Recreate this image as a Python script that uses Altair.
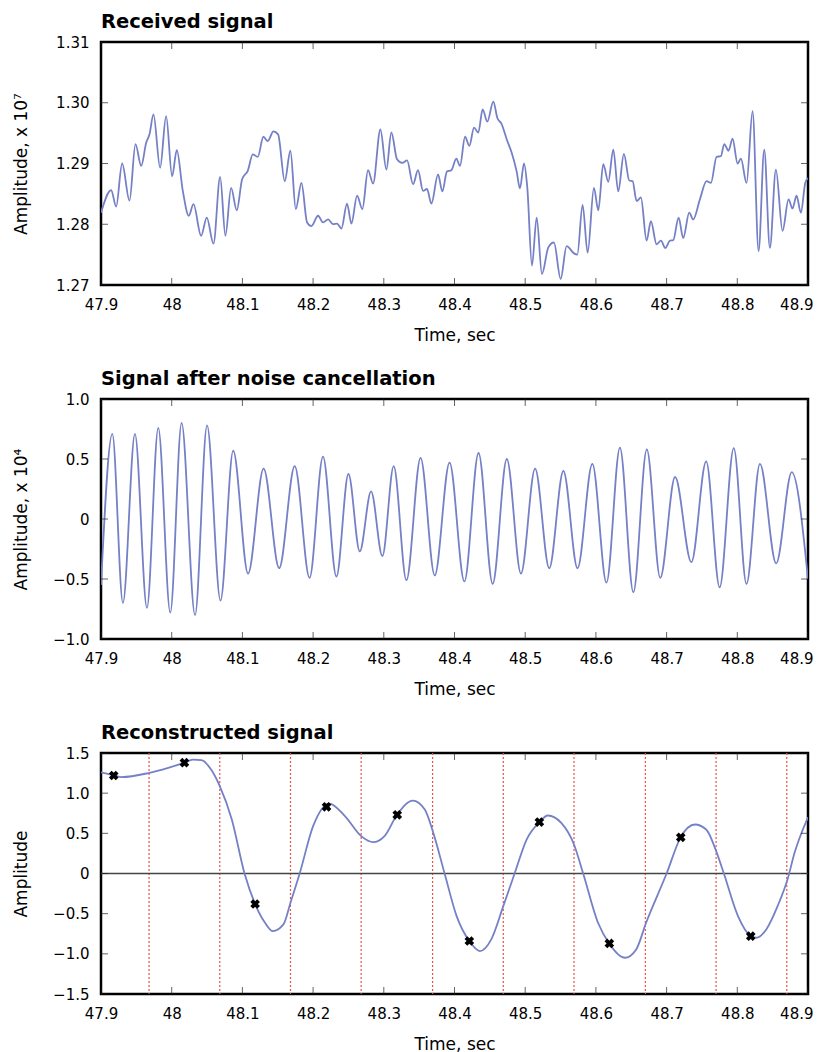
import altair as alt
import pandas as pd

# ---------------- data ----------------
x_ticks = [47.9, 48.0, 48.1, 48.2, 48.3, 48.4, 48.5, 48.6, 48.7, 48.8, 48.9]

# Panel 1: received signal (amplitude x 1e7)
p1_t = [47.9000, 47.9144, 47.9214, 47.9299, 47.9403, 47.9488, 47.9568, 47.9639, 47.9686, 47.9742,
        47.9836, 47.9921, 48.0006, 48.0072, 48.0157, 48.0242, 48.0308, 48.0416, 48.0496, 48.0591,
        48.0685, 48.0760, 48.0840, 48.0920, 48.0996, 48.1076, 48.1147, 48.1217, 48.1297, 48.1359,
        48.1439, 48.1505, 48.1599, 48.1679, 48.1755, 48.1835, 48.1915, 48.1976, 48.2070, 48.2141,
        48.2212, 48.2282, 48.2339, 48.2400, 48.2480, 48.2542, 48.2622, 48.2697, 48.2777, 48.2848,
        48.2952, 48.3036, 48.3107, 48.3187, 48.3262, 48.3329, 48.3414, 48.3484, 48.3555, 48.3611,
        48.3673, 48.3767, 48.3828, 48.3894, 48.3955, 48.4026, 48.4078, 48.4149, 48.4210, 48.4276,
        48.4337, 48.4398, 48.4464, 48.4549, 48.4606, 48.4667, 48.4738, 48.4808, 48.4879, 48.4926,
        48.4983, 48.5030, 48.5096, 48.5162, 48.5237, 48.5327, 48.5407, 48.5501, 48.5586, 48.5690,
        48.5737, 48.5812, 48.5883, 48.5972, 48.6034, 48.6104, 48.6175, 48.6246, 48.6316, 48.6396,
        48.6472, 48.6519, 48.6576, 48.6637, 48.6717, 48.6778, 48.6858, 48.6920, 48.6981, 48.7047,
        48.7094, 48.7170, 48.7235, 48.7320, 48.7377, 48.7471, 48.7565, 48.7627, 48.7707, 48.7768,
        48.7815, 48.7876, 48.7933, 48.8004, 48.8051, 48.8131, 48.8216, 48.8301, 48.8381, 48.8461,
        48.8546, 48.8640, 48.8725, 48.8781, 48.8838, 48.8899, 48.8961, 48.9000]
p1_v = [1.2819, 1.2856, 1.2829, 1.2900, 1.2839, 1.2932, 1.2896, 1.2934, 1.2948, 1.2981,
        1.2893, 1.2978, 1.2879, 1.2922, 1.2855, 1.2814, 1.2833, 1.2781, 1.2811, 1.2768,
        1.2878, 1.2781, 1.2860, 1.2823, 1.2874, 1.2888, 1.2915, 1.2911, 1.2944, 1.2937,
        1.2953, 1.2948, 1.2871, 1.2921, 1.2825, 1.2868, 1.2803, 1.2797, 1.2814, 1.2803,
        1.2808, 1.2800, 1.2801, 1.2793, 1.2834, 1.2801, 1.2847, 1.2825, 1.2889, 1.2867,
        1.2956, 1.2890, 1.2951, 1.2907, 1.2901, 1.2905, 1.2866, 1.2889, 1.2855, 1.2858,
        1.2834, 1.2882, 1.2854, 1.2887, 1.2889, 1.2908, 1.2896, 1.2944, 1.2929, 1.2959,
        1.2951, 1.2989, 1.2969, 1.3002, 1.2975, 1.2965, 1.2940, 1.2918, 1.2887, 1.2859,
        1.2900, 1.2860, 1.2732, 1.2811, 1.2718, 1.2762, 1.2770, 1.2710, 1.2764, 1.2752,
        1.2750, 1.2832, 1.2753, 1.2860, 1.2823, 1.2899, 1.2870, 1.2923, 1.2854, 1.2916,
        1.2872, 1.2871, 1.2838, 1.2844, 1.2773, 1.2805, 1.2767, 1.2773, 1.2761, 1.2773,
        1.2774, 1.2811, 1.2777, 1.2819, 1.2808, 1.2841, 1.2871, 1.2868, 1.2911, 1.2912,
        1.2932, 1.2921, 1.2941, 1.2900, 1.2908, 1.2868, 1.2986, 1.2756, 1.2923, 1.2761,
        1.2890, 1.2789, 1.2841, 1.2826, 1.2847, 1.2819, 1.2868, 1.2876]
p1_yticks = [1.27, 1.28, 1.29, 1.30, 1.31]

# Panel 2: signal after noise cancellation (amplitude x 1e4), peaks and troughs
p2_t = [47.900, 47.916, 47.931, 47.948, 47.965, 47.981, 47.998, 48.014, 48.033, 48.050,
        48.069, 48.087, 48.108, 48.130, 48.152, 48.174, 48.195, 48.214, 48.233, 48.250,
        48.266, 48.282, 48.298, 48.314, 48.332, 48.352, 48.372, 48.393, 48.414, 48.434,
        48.454, 48.474, 48.494, 48.514, 48.534, 48.554, 48.574, 48.595, 48.615, 48.634,
        48.653, 48.672, 48.691, 48.712, 48.735, 48.756, 48.775, 48.795, 48.813, 48.832,
        48.855, 48.877, 48.900]
p2_v = [-0.55, 0.71, -0.70, 0.71, -0.74, 0.76, -0.78, 0.80, -0.80, 0.78,
        -0.68, 0.57, -0.455, 0.42, -0.41, 0.44, -0.49, 0.52, -0.48, 0.375,
        -0.27, 0.23, -0.31, 0.44, -0.51, 0.51, -0.47, 0.47, -0.52, 0.55,
        -0.54, 0.50, -0.455, 0.42, -0.41, 0.40, -0.41, 0.46, -0.53, 0.595,
        -0.61, 0.58, -0.49, 0.35, -0.36, 0.48, -0.57, 0.59, -0.54, 0.46,
        -0.37, 0.39, -0.50]
p2_yticks = [-1.0, -0.5, 0.0, 0.5, 1.0]

# Panel 3: reconstructed signal
p3_t = [47.900, 47.919, 47.929, 47.967, 47.995, 48.018, 48.030, 48.042, 48.056, 48.068,
        48.085, 48.103, 48.118, 48.132, 48.143, 48.158, 48.168, 48.181, 48.200, 48.223,
        48.245, 48.268, 48.285, 48.301, 48.319, 48.341, 48.358, 48.370, 48.386, 48.403,
        48.421, 48.436, 48.452, 48.469, 48.485, 48.502, 48.520, 48.532, 48.551, 48.569,
        48.582, 48.603, 48.619, 48.641, 48.657, 48.671, 48.700, 48.720, 48.740, 48.756,
        48.771, 48.781, 48.801, 48.819, 48.827, 48.841, 48.857, 48.871, 48.881, 48.900]
p3_v = [1.26, 1.22, 1.20, 1.25, 1.315, 1.38, 1.418, 1.41, 1.29, 1.087,
        0.672, 0.0, -0.38, -0.613, -0.717, -0.634, -0.364, 0.0, 0.59, 0.871,
        0.714, 0.465, 0.39, 0.465, 0.734, 0.908, 0.796, 0.506, 0.0, -0.53,
        -0.841, -0.966, -0.82, -0.406, 0.0, 0.423, 0.639, 0.722, 0.63, 0.361,
        0.0, -0.613, -0.874, -1.049, -0.945, -0.613, 0.0, 0.453, 0.61, 0.548,
        0.257, 0.0, -0.53, -0.779, -0.80, -0.696, -0.406, -0.075, 0.257, 0.70]
p3_yticks = [-1.5, -1.0, -0.5, 0.0, 0.5, 1.0, 1.5]
sample_t = [47.918, 48.018, 48.118, 48.219, 48.319, 48.421, 48.520, 48.619, 48.720, 48.819]
sample_v = [1.22, 1.38, -0.38, 0.83, 0.73, -0.84, 0.64, -0.87, 0.45, -0.78]
window_t = [47.968, 48.068, 48.168, 48.268, 48.369, 48.469, 48.569, 48.670, 48.770, 48.870]
zero_v = [0.0]

LINE = "#7580c6"
FONT = "DejaVu Sans"
LAST = "datum.value > 48.85"


def panel(t, v, ydom, yticks, ytitle, title, height, ylabel_expr, under=None, over=None):
    xs = alt.Scale(domain=[47.9, 48.9], nice=False, zero=False)
    ys = alt.Scale(domain=ydom, nice=False, zero=False)
    xaxis = alt.Axis(values=x_ticks, format="~g", title="Time, sec", labelFlush=False,
                     labelAlign={"condition": {"test": LAST, "value": "right"}, "value": "center"},
                     labelOffset={"condition": {"test": LAST, "value": 5}, "value": 0},
                     labelPadding=12, titlePadding=15)
    yaxis = alt.Axis(values=yticks, labelExpr=ylabel_expr, title=ytitle, labelFlush=False,
                     labelPadding=12, titleX=-80, titleBaseline="middle")
    X = lambda f: alt.X(f"{f}:Q", scale=xs, axis=xaxis)
    Y = lambda f: alt.Y(f"{f}:Q", scale=ys, axis=yaxis)

    df = pd.DataFrame({"t": t, "v": v})
    xt = pd.DataFrame({"t": x_ticks})
    yt = pd.DataFrame({"v": yticks})

    tick_style = dict(size=14, thickness=1, color="#222", clip=True)
    layers = []
    if under:
        layers += under(X, Y)
    layers.append(alt.Chart(df).mark_line(color=LINE, strokeWidth=1.8,
                                          interpolate="monotone", clip=True)
                  .encode(x=X("t"), y=Y("v")))
    layers += [
        alt.Chart(xt).mark_tick(orient="vertical", **tick_style)
        .encode(x=X("t"), y=alt.datum(ydom[1])),
        alt.Chart(xt).mark_tick(orient="vertical", **tick_style)
        .encode(x=X("t"), y=alt.datum(ydom[0])),
        alt.Chart(yt).mark_tick(orient="horizontal", **tick_style)
        .encode(y=Y("v"), x=alt.datum(47.9)),
        alt.Chart(yt).mark_tick(orient="horizontal", **tick_style)
        .encode(y=Y("v"), x=alt.datum(48.9)),
    ]
    if over:
        layers += over(X, Y)
    return alt.layer(*layers).properties(
        width=707, height=height,
        title=alt.TitleParams(title, anchor="start", frame="group", font=FONT,
                              fontSize=19.5, fontWeight="bold", baseline="bottom",
                              offset=-16, color="black"),
    )


def extra_under(X, Y):
    wdf = pd.DataFrame({"t": window_t})
    zdf = pd.DataFrame({"v": zero_v})
    return [
        alt.Chart(wdf).mark_rule(color="#e8524a", strokeWidth=1.2, strokeDash=[2, 2],
                                 clip=True).encode(x=X("t")),
        alt.Chart(zdf).mark_rule(color="#444", strokeWidth=1.6, clip=True).encode(y=Y("v")),
    ]


def extra_over(X, Y):
    sdf = pd.DataFrame({"t": sample_t, "v": sample_v})
    return [
        alt.Chart(sdf).mark_point(shape="cross", angle=45, filled=True, color="black",
                                  size=95, opacity=1).encode(x=X("t"), y=Y("v")),
    ]


two_dec = "format(datum.value, '.2f')"
one_dec = "datum.value == 0 ? '0' : format(datum.value, '.1f')"

c1 = panel(p1_t, p1_v, [1.27, 1.31], p1_yticks, "Amplitude, x 10\u2077",
           "Received signal", 243, two_dec)
c2 = panel(p2_t, p2_v, [-1.0, 1.0], p2_yticks, "Amplitude, x 10\u2074",
           "Signal after noise cancellation", 240, one_dec)
c3 = panel(p3_t, p3_v, [-1.5, 1.5], p3_yticks, "Amplitude",
           "Reconstructed signal", 241, one_dec, under=extra_under, over=extra_over)

chart = alt.vconcat(c1, c2, c3, spacing=22).properties(
    padding={"left": 2, "top": 2, "right": 0, "bottom": 0}
).configure_axis(
    labelFont=FONT, labelFontSize=15, labelColor="black",
    titleFont=FONT, titleFontSize=17, titleFontWeight="normal", titleColor="black",
    grid=False, ticks=False, domain=False,
).configure_view(
    stroke="black", strokeWidth=2.5
)

chart.save("out.html", embed_options={"renderer": "svg", "actions": False})
